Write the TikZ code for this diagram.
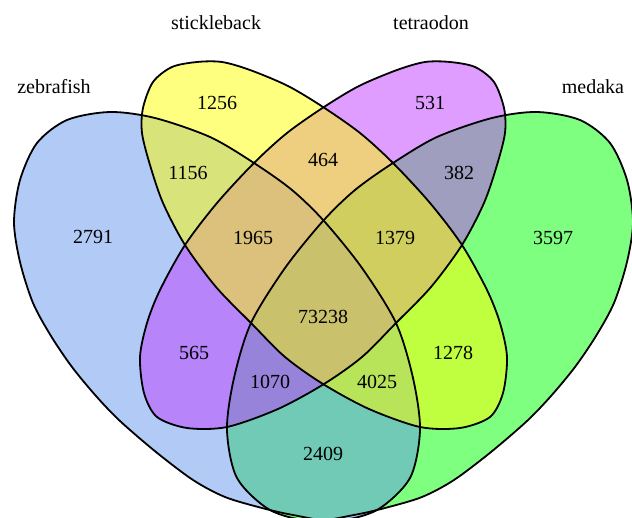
\documentclass[tikz,border=0pt]{standalone}
\usepackage{fontspec}
\setmainfont{Liberation Serif}
\usepackage{tikz}
\definecolor{zebraBlue}  {HTML}{6495ED}
\definecolor{stickYellow}{HTML}{FFFF00}
\definecolor{tetraPurple}{HTML}{BF3EFF}
\definecolor{medakaGreen}{HTML}{00FF00}

\newcommand{\zebrafishOutline}{plot[smooth cycle] coordinates {
    (110,112) (155,118) (210,137) (254,163) (292,190) (324,221)
    (362,268) (396,323) (413,378) (420,430) (410,478) (377,510)
    (335,521) (293,515) (262,508) (225,497) (193,480) (156,452)
    (120,421) (96,396) (72,367) (51,336) (33,303) (20,262) (14,222)
    (20,180) (37,143) (67,120)}}
\newcommand{\sticklebackOutline}{plot[smooth cycle] coordinates {
    (197,62) (222,62) (250,70) (288,86) (323,107) (360,133)
    (393,163) (430,203) (462,245) (487,290) (500,323) (507,357)
    (503,393) (490,417) (460,428) (420,427) (369,409) (323,384)
    (285,357) (252,324) (216,287) (185,245) (163,203) (150,165)
    (142,133) (143,108) (153,82) (172,67)}}

\begin{document}
\begin{tikzpicture}[
    x=1pt, y=-1pt,
    set/.style={fill opacity=0.5},
    rim/.style={draw=black, line width=1.8pt},
    mirrored/.style={shift={(647,0)}, xscale=-1},
    num/.style={font=\fontsize{20}{24}\selectfont, inner sep=0pt},
    lbl/.style={num},
  ]
    \useasboundingbox (0,0) rectangle (632,518);
    \clip (0,0) rectangle (632,518);

    \fill[set, medakaGreen, mirrored] \zebrafishOutline;
    \fill[set, zebraBlue] \zebrafishOutline;
    \fill[set, tetraPurple, mirrored] \sticklebackOutline;
    \fill[set, stickYellow] \sticklebackOutline;

    \draw[rim, mirrored] \zebrafishOutline;
    \draw[rim] \zebrafishOutline;
    \draw[rim, mirrored] \sticklebackOutline;
    \draw[rim] \sticklebackOutline;

    \node[lbl] (zebra)  at (54,87)  {zebrafish};
    \node[lbl] (stick)  at (216,23) {stickleback};
    \node[lbl] (tetra)  at (431,23) {tetraodon};
    \node[lbl] (medaka) at (593,87) {medaka};

    \node[num] (z)    at (93,237)  {2791};
    \node[num] (s)    at (217,103) {1256};
    \node[num] (t)    at (430,103) {531};
    \node[num] (m)    at (553,238) {3597};
    \node[num] (zs)   at (188,173) {1156};
    \node[num] (st)   at (323,160) {464};
    \node[num] (tm)   at (459,173) {382};
    \node[num] (zst)  at (253,238) {1965};
    \node[num] (stm)  at (395,238) {1379};
    \node[num] (zstm) at (323,317) {73238};
    \node[num] (zt)   at (194,353) {565};
    \node[num] (sm)   at (453,353) {1278};
    \node[num] (ztm)  at (270,382) {1070};
    \node[num] (zsm)  at (377,382) {4025};
    \node[num] (zm)   at (323,454) {2409};
  \end{tikzpicture}
\end{document}
